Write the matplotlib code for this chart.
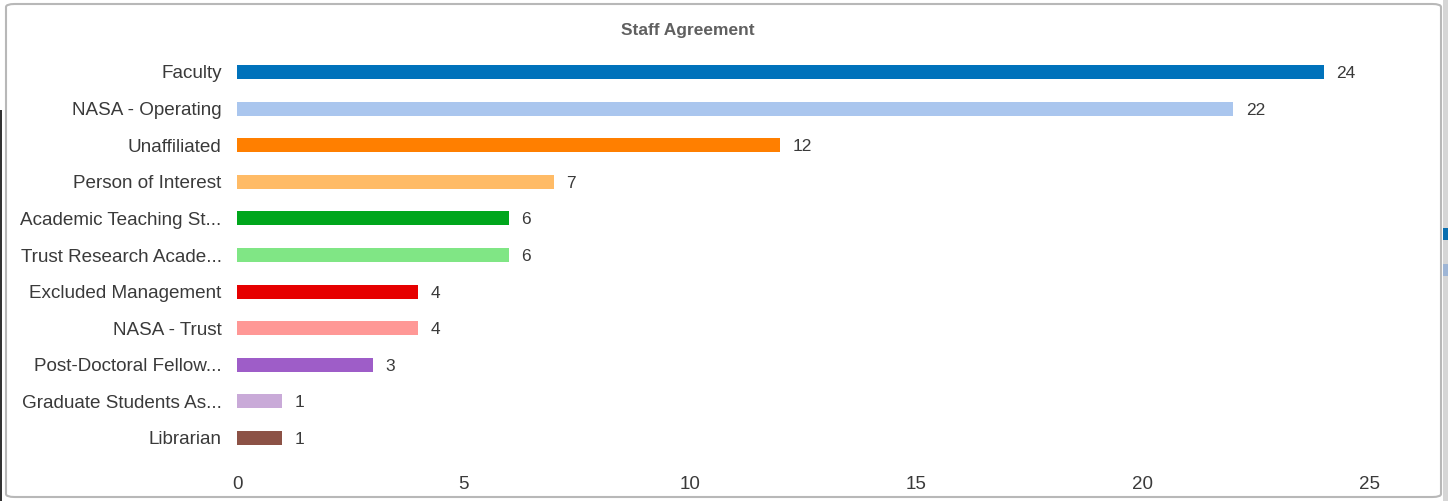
import matplotlib
matplotlib.use("Agg")
import matplotlib.pyplot as plt
from matplotlib.patches import FancyBboxPatch, Rectangle

categories = ["Faculty", "NASA - Operating", "Unaffiliated", "Person of Interest",
              "Academic Teaching St...", "Trust Research Acade...", "Excluded Management",
              "NASA - Trust", "Post-Doctoral Fellow...", "Graduate Students As...", "Librarian"]
values = [24, 22, 12, 7, 6, 6, 4, 4, 3, 1, 1]
colors = ["#0072bb", "#aac6ee", "#ff7f00", "#ffbb66", "#00a61c", "#80e685",
          "#e60000", "#ff9896", "#9e5dc8", "#c9aad8", "#8c5246"]
xticks = [0, 5, 10, 15, 20, 25]
title = "Staff Agreement"

W, H = 1448, 501
fig = plt.figure(figsize=(W / 100, H / 100), dpi=100)
plt.rcParams['font.family'] = ['Liberation Sans', 'DejaVu Sans']

# frame
frame = FancyBboxPatch((6 / W, 4 / H), (1441 - 6) / W, (497 - 4) / H,
                       boxstyle="round,pad=0,rounding_size=0.006",
                       transform=fig.transFigure, fill=False, edgecolor="#b8b8b8", lw=1.5)
fig.patches.append(frame)
fig.patches.append(Rectangle((1443 / W, 0), 5 / W, 1, transform=fig.transFigure,
                             facecolor="#d6d6d6", edgecolor="none"))
fig.patches.append(Rectangle((1443 / W, 1 - 240 / H), 5 / W, 12 / H, transform=fig.transFigure,
                             facecolor="#0a6fb0", edgecolor="none"))
fig.patches.append(Rectangle((1443 / W, 1 - 276 / H), 5 / W, 12 / H, transform=fig.transFigure,
                             facecolor="#9fb6d6", edgecolor="none"))
fig.patches.append(Rectangle((0, 0), 2 / W, 1 - 110 / H, transform=fig.transFigure,
                             facecolor="#333333", edgecolor="none"))

left = 237 / W
right = 1369 / W
top_px, bot_px = 53.7, 456.3
ax = fig.add_axes([left, 1 - bot_px / H, right - left, (bot_px - top_px) / H])
ax.set_facecolor("none")

ypos = list(range(len(categories)))
ax.barh(ypos, values, height=0.38, color=colors, edgecolor="none")
ax.set_xlim(0, 25)
ax.set_ylim(len(categories) - 0.5, -0.5)
ax.set_yticks(ypos)
ax.set_yticklabels(categories, fontsize=13.6, color="#3a3a3a")
ax.set_xticks(xticks)
ax.set_xticklabels([str(t) for t in xticks], fontsize=13.5, color="#3a3a3a")
ax.tick_params(axis="y", length=0, pad=11)
ax.tick_params(axis="x", length=0, pad=14.5)
for s in ax.spines.values():
    s.set_visible(False)

for y, v in zip(ypos, values):
    ax.annotate(str(v), (v, y), xytext=(9, 0), textcoords="offset points",
                va="center_baseline", ha="left", fontsize=12.5, color="#3a3a3a")

fig.text(688 / W, 1 - 30 / H, title, ha="center", va="center", fontsize=12.5,
         fontweight="bold", color="#606060")

fig.savefig("out.png", dpi=100)
